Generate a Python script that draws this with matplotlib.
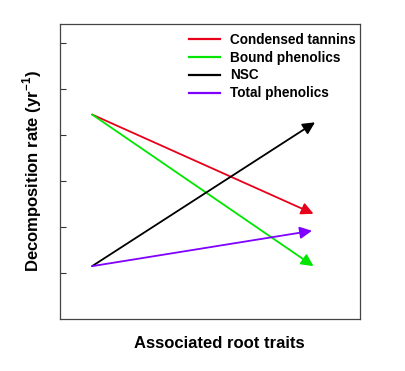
import matplotlib.pyplot as plt
from matplotlib.lines import Line2D

plt.rcParams['font.family'] = ['Liberation Sans', 'DejaVu Sans']
plt.rcParams['mathtext.fontset'] = 'custom'
plt.rcParams['mathtext.bf'] = 'Liberation Sans:bold'
plt.rcParams['mathtext.rm'] = 'Liberation Sans:bold'

# Trait gradient: low -> high (arbitrary units)
x_start = [1.07, 1.07, 1.07, 1.07]
x_end = [8.45, 8.45, 8.5, 8.4]
series = ['Condensed tannins', 'Bound phenolics', 'NSC', 'Total phenolics']
y_start = [4.45, 4.45, 1.15, 1.15]
y_end = [2.29, 1.15, 4.28, 1.92]
colors = ['#e8001a', '#00e600', '#000000', '#7f00ff']
y_ticks = [1, 2, 3, 4, 5, 6]

fig = plt.figure(figsize=(4.05, 3.71), dpi=100)
ax = fig.add_axes([60 / 405, 1 - 319 / 371, 300 / 405, 295 / 371])

handles = []
for x0, x1, y0, y1, c, name in zip(x_start, x_end, y_start, y_end, colors, series):
    ax.annotate('', xy=(x1, y1), xytext=(x0, y0),
                arrowprops=dict(arrowstyle='-|>', color=c, lw=1.3,
                                mutation_scale=18, shrinkA=0, shrinkB=0))
    handles.append(Line2D([], [], color=c, lw=1.6, label=name))

ax.set_xlim(0, 10)
ax.set_ylim(0, 6.42)
ax.set_xticks([])
ax.set_yticks(y_ticks)
ax.set_yticklabels([])
ax.tick_params(axis='y', direction='in', length=4, width=0.8, color='#333333')
for s in ax.spines.values():
    s.set_color('#444444')
    s.set_linewidth(0.9)

ax.set_ylabel('Decomposition rate (yr$^{\\mathrm{-1}}$)', fontsize=12,
              fontweight='bold', labelpad=8)
ax.set_xlabel('Associated root traits', fontsize=12, fontweight='bold')
ax.xaxis.set_label_coords(0.53, -0.058)

leg = ax.legend(handles=handles, loc='upper right', frameon=False,
                prop={'weight': 'bold', 'size': 9.8}, handlelength=2.3,
                handletextpad=0.7, labelspacing=0.28,
                borderaxespad=0.25, bbox_to_anchor=(1.015, 1.0))

fig.savefig('out.png', dpi=100)
